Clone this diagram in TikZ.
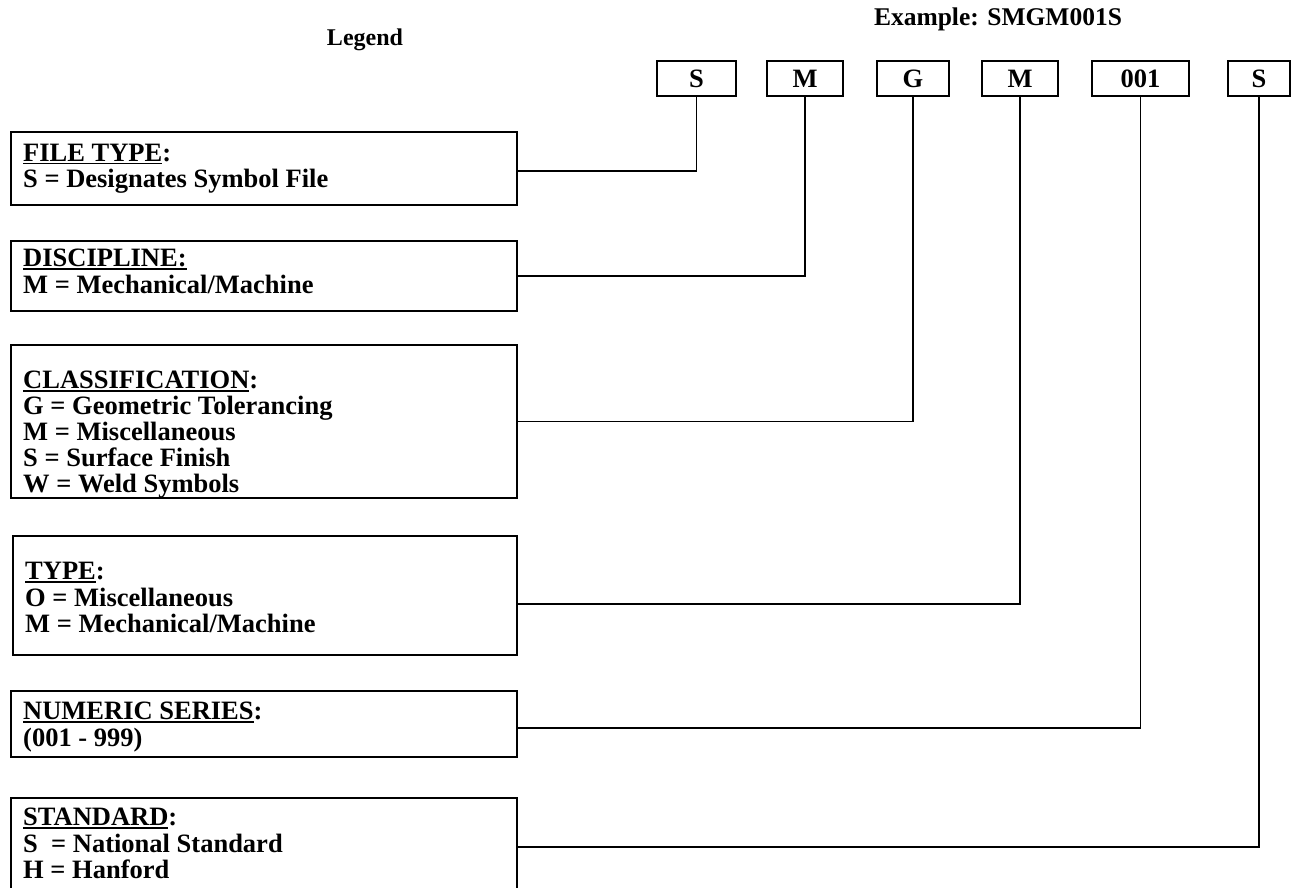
\documentclass[tikz,border=0pt]{standalone}
\usepackage{fontspec}
\setmainfont{Liberation Serif}
\newcommand\hdul[1]{\setbox0\hbox{#1}\rlap{\rule[-3.5pt]{\wd0}{1.8pt}}\box0}
\begin{document}
\begin{tikzpicture}[x=1pt,y=-1pt,
  box/.style={draw, line width=1.7pt, rectangle, inner sep=0pt, anchor=north west},
  code/.style={draw, line width=1.7pt, rectangle, inner sep=0pt, minimum height=35pt,
    font=\bfseries\fontsize{26.5}{28}\selectfont},
  txt/.style={anchor=base west, inner sep=0pt, font=\bfseries\fontsize{26.5}{28}\selectfont},
  conn/.style={line width=1.7pt}]
\useasboundingbox (0,0) rectangle (1291,888);

% titles
\node[txt, anchor=base, font=\bfseries\fontsize{24}{26}\selectfont] (legend) at (365,46) {Legend};
\node[txt, anchor=base, font=\bfseries\fontsize{25.5}{26}\selectfont] (example) at (998,26) {Example: SMGM001S};

% code boxes
\node[code, minimum width=79pt] (c1) at (696.5,78.5) {S};
\node[code, minimum width=76pt] (c2) at (805,78.5) {M};
\node[code, minimum width=72pt] (c3) at (913,78.5) {G};
\node[code, minimum width=76pt] (c4) at (1020,78.5) {M};
\node[code, minimum width=97pt] (c5) at (1140.5,78.5) {001};
\node[code, minimum width=62pt] (c6) at (1259,78.5) {S};

% legend boxes
\node[box, minimum width=506pt, minimum height=73pt] (ft) at (10,131) {};
\node[txt] (ft1) at (23,161) {\hdul{FILE TYPE}:};
\node[txt] (ft2) at (23,188) {S = Designates Symbol File};

\node[box, minimum width=506pt, minimum height=70pt] (di) at (10,240) {};
\node[txt] (di1) at (23,266) {\hdul{DISCIPLINE:}};
\node[txt] (di2) at (23,293) {M = Mechanical/Machine};

\node[box, minimum width=506pt, minimum height=153pt] (cl) at (10,344) {};
\node[txt] (cl1) at (23,388) {\hdul{CLASSIFICATION}:};
\node[txt] (cl2) at (23,414) {G = Geometric Tolerancing};
\node[txt] (cl3) at (23,440) {M = Miscellaneous};
\node[txt] (cl4) at (23,466) {S = Surface Finish};
\node[txt] (cl5) at (23,492) {W = Weld Symbols};

\node[box, minimum width=504pt, minimum height=119pt] (ty) at (12,535) {};
\node[txt] (ty1) at (25,579) {\hdul{TYPE}:};
\node[txt] (ty2) at (25,606) {O = Miscellaneous};
\node[txt] (ty3) at (25,632) {M = Mechanical/Machine};

\node[box, minimum width=506pt, minimum height=66pt] (nu) at (10,690) {};
\node[txt] (nu1) at (23,719) {\hdul{NUMERIC SERIES}:};
\node[txt] (nu2) at (23,746) {(001 - 999)};

\node[box, minimum width=506pt, minimum height=91pt] (st) at (10,797) {};
\node[txt] (st1) at (23,825) {\hdul{STANDARD}:};
\node[txt] (st2) at (23,852) {S\ \ = National Standard};
\node[txt] (st3) at (23,878) {H = Hanford};

% connectors
\draw[conn] ([yshift=-2.5pt]ft.east) -| (c1.south);
\draw[conn] (di.east) -| (c2.south);
\draw[conn] (cl.east) -| (c3.south);
\draw[conn] ([yshift=-8.5pt]ty.east) -| (c4.south);
\draw[conn] ([yshift=-4pt]nu.east) -| (c5.south);
\draw[conn] ([yshift=-3.5pt]st.east) -| (c6.south);
\end{tikzpicture}
\end{document}
